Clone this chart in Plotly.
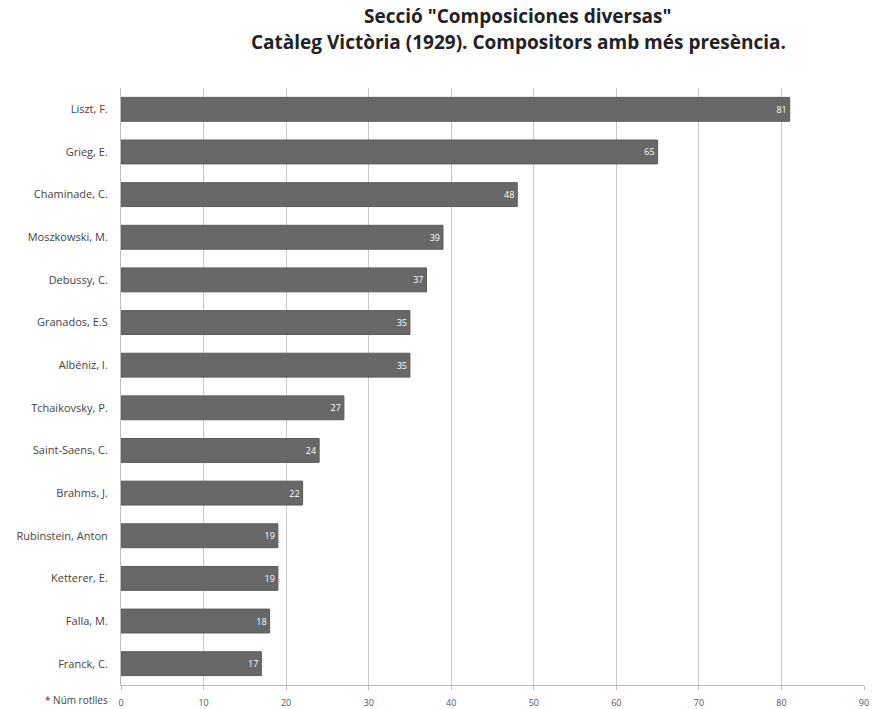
import plotly.graph_objects as go

composers = ["Liszt, F.", "Grieg, E.", "Chaminade, C.", "Moszkowski, M.", "Debussy, C.",
             "Granados, E.S", "Albéniz, I.", "Tchaikovsky, P.", "Saint-Saens, C.", "Brahms, J.",
             "Rubinstein, Anton", "Ketterer, E.", "Falla, M.", "Franck, C."]
rolls = [81, 65, 48, 39, 37, 35, 35, 27, 24, 22, 19, 19, 18, 17]
x_ticks = [0, 10, 20, 30, 40, 50, 60, 70, 80, 90]
title_lines = ['Secció "Composiciones diversas"',
               'Catàleg Victòria (1929). Compositors amb més presència.']

fig = go.Figure()
fig.add_trace(go.Bar(
    x=rolls, y=composers, orientation="h",
    marker=dict(color="#686868", line=dict(color="#5a5a5a", width=1)),
    width=0.56,
    text=[str(v) for v in rolls], textposition="inside", insidetextanchor="end",
    textfont=dict(color="white", size=9, family="Open Sans"),
    cliponaxis=False,
))

fig.update_layout(
    width=872, height=709,
    margin=dict(l=121, r=8, t=88, b=24),
    plot_bgcolor="white", paper_bgcolor="white",
    showlegend=False,
    font=dict(family="Open Sans", color="#444"),
)
fig.update_xaxes(
    range=[0, 90], tickvals=x_ticks, ticktext=[str(t) for t in x_ticks],
    showgrid=True, gridcolor="#c8c8c8", gridwidth=1,
    showline=True, linecolor="#bdbdbd", linewidth=1,
    ticks="outside", ticklen=4, tickcolor="#bdbdbd",
    tickfont=dict(size=9, color="#555"), zeroline=False,
    ticklabelstandoff=5, automargin=False,
)
fig.update_yaxes(
    categoryorder="array", categoryarray=composers[::-1],
    showline=True, linecolor="#bdbdbd", linewidth=1,
    tickfont=dict(size=11, color="#444"), ticks="", ticklabelstandoff=10,
    automargin=False,
)
plot_h = 709 - 88 - 24
for line, ypx in zip(title_lines, [16, 42]):
    fig.add_annotation(text="<b>" + line + "</b>", xref="paper", yref="paper",
                       x=(518 - 121) / (872 - 121 - 8), y=1 + (88 - ypx) / plot_h,
                       xanchor="center", yanchor="middle", showarrow=False,
                       font=dict(size=19, color="#222", family="Open Sans"))
fig.add_annotation(text="* Núm rotlles", xref="paper", yref="paper",
                   x=-0.015, y=-(700 - 685) / plot_h, xanchor="right", yanchor="middle",
                   showarrow=False, font=dict(size=10, color="#444", family="Open Sans"))

fig.write_html("out.html")
